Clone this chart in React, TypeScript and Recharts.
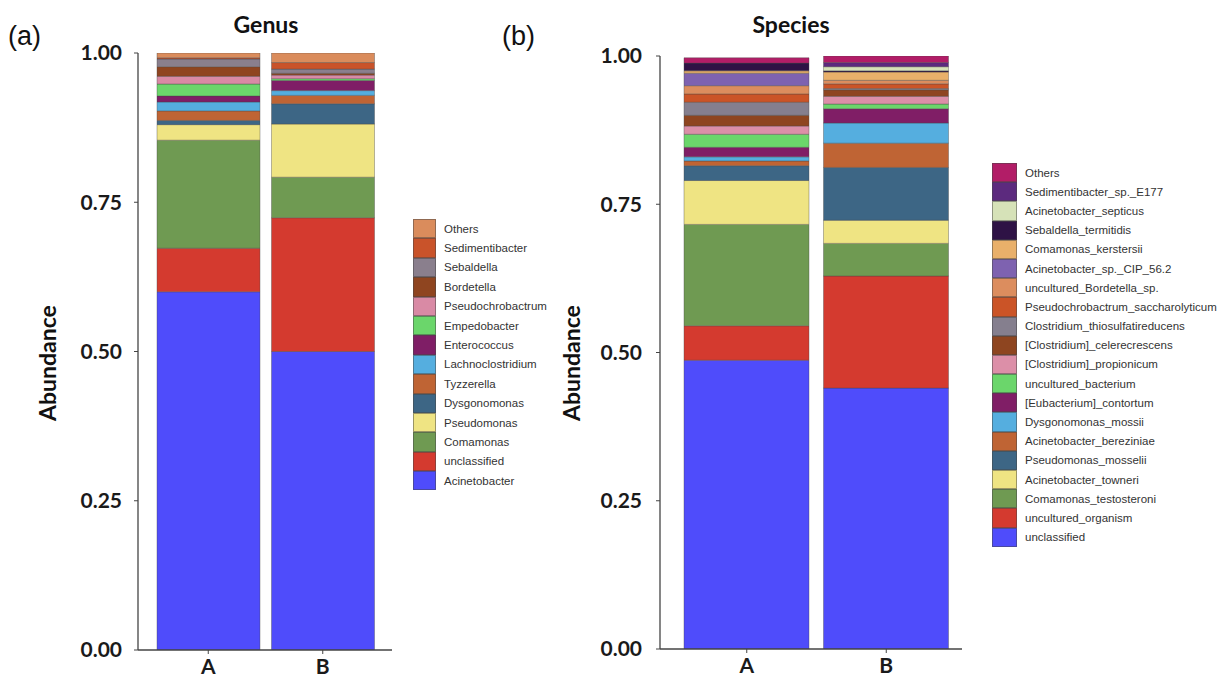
import { BarChart, Bar, XAxis, YAxis } from "recharts";

const categories = ["A", "B"];
const yTicks = [0, 0.25, 0.5, 0.75, 1];

// stacked bottom -> top
const genusNames = [
  "Acinetobacter", "unclassified", "Comamonas", "Pseudomonas", "Dysgonomonas",
  "Tyzzerella", "Lachnoclostridium", "Enterococcus", "Empedobacter",
  "Pseudochrobactrum", "Bordetella", "Sebaldella", "Sedimentibacter", "Others",
];
const genusA = [0.6, 0.073, 0.181, 0.026, 0.007, 0.016, 0.015, 0.01, 0.02, 0.013, 0.016, 0.013, 0.002, 0.008];
const genusB = [0.5, 0.224, 0.068, 0.089, 0.034, 0.014, 0.008, 0.017, 0.003, 0.006, 0.003, 0.007, 0.011, 0.016];

const speciesNames = [
  "unclassified", "uncultured_organism", "Comamonas_testosteroni", "Acinetobacter_towneri",
  "Pseudomonas_mosselii", "Acinetobacter_bereziniae", "Dysgonomonas_mossii",
  "[Eubacterium]_contortum", "uncultured_bacterium", "[Clostridium]_propionicum",
  "[Clostridium]_celerecrescens", "Clostridium_thiosulfatireducens",
  "Pseudochrobactrum_saccharolyticum", "uncultured_Bordetella_sp.", "Acinetobacter_sp._CIP_56.2",
  "Comamonas_kerstersii", "Sebaldella_termitidis", "Acinetobacter_septicus",
  "Sedimentibacter_sp._E177", "Others",
];
const speciesA = [0.487, 0.058, 0.171, 0.074, 0.025, 0.008, 0.007, 0.016, 0.022, 0.014, 0.018, 0.022, 0.014, 0.014, 0.021, 0.004, 0.013, 0, 0, 0.009];
const speciesB = [0.44, 0.189, 0.055, 0.039, 0.089, 0.041, 0.034, 0.024, 0.008, 0.013, 0.011, 0.002, 0.008, 0.006, 0, 0.014, 0.002, 0.007, 0.007, 0.011];

const genusColors = [
  "#4f4cfb", "#d43a2f", "#6f9a52", "#efe483", "#3d6685", "#bf6434", "#55aedf",
  "#7f1e66", "#6bd66b", "#d98aa5", "#8f4520", "#8a7f8d", "#c9532a", "#da8c5c",
];
const speciesColors = [
  "#4f4cfb", "#d43a2f", "#6f9a52", "#efe483", "#3d6685", "#bf6434", "#55aedf",
  "#801e66", "#6bd66b", "#dc8fa8", "#8e4520", "#857f8e", "#cb5427", "#dc8d5e",
  "#7e62b0", "#e9b06a", "#2e1245", "#d6e2b8", "#5c2a7e", "#b21d67",
];

function buildRows(names: string[], a: number[], b: number[]) {
  const vals = [a, b];
  return categories.map((c, ci) => {
    const row: Record<string, number | string> = { cat: c };
    names.forEach((_, i) => {
      row[`s${i}`] = vals[ci][i];
    });
    return row;
  });
}

const tickFont = { fontFamily: "Lato", fontWeight: 700, fontSize: 21, fill: "#1a1a1a" };
const H = 682;
const Y_W = 64;
const X_H = 30;

interface PanelProps {
  names: string[];
  colors: string[];
  a: number[];
  b: number[];
  left: number;
  width: number;
  plotLeft: number;
  plotRight: number;
  plotTop: number;
  plotBottom: number;
  barSize: number;
  padL: number;
  padR: number;
  tickMargin: number;
  title: string;
  titleX: number;
  letter: string;
  letterX: number;
  ylabX: number;
  legendX: number;
  legendY: number;
  legendW: number;
  rowH: number;
  swW: number;
}

function Panel(p: PanelProps) {
  const data = buildRows(p.names, p.a, p.b);
  const legendItems = p.names.map((n, i) => ({ n, c: p.colors[i] })).reverse();
  return (
    <>
      <div style={{ position: "absolute", left: p.left, top: 0 }}>
        <BarChart
          width={p.width}
          height={H}
          data={data}
          margin={{
            top: p.plotTop,
            bottom: H - p.plotBottom - X_H,
            left: p.plotLeft - p.left - Y_W,
            right: p.left + p.width - p.plotRight,
          }}
        >
          <XAxis
            dataKey="cat"
            height={X_H}
            padding={{ left: p.padL, right: p.padR }}
            tick={tickFont}
            tickSize={4}
            tickMargin={5}
            axisLine={{ stroke: "#444", strokeWidth: 1.3 }}
            tickLine={{ stroke: "#444" }}
          />
          <YAxis
            width={Y_W}
            type="number"
            domain={[0, 1]}
            allowDataOverflow
            ticks={yTicks}
            tickFormatter={(v: number) => v.toFixed(2)}
            tick={tickFont}
            tickSize={4}
            tickMargin={p.tickMargin}
            axisLine={{ stroke: "#444", strokeWidth: 1.3 }}
            tickLine={{ stroke: "#444" }}
          />
          {p.names.map((n, i) => (
            <Bar
              key={n}
              dataKey={`s${i}`}
              name={n}
              stackId="a"
              fill={p.colors[i]}
              stroke="rgba(70,70,70,0.55)"
              strokeWidth={0.7}
              barSize={p.barSize}
              isAnimationActive={false}
            />
          ))}
        </BarChart>
      </div>
      <div
        style={{
          position: "absolute",
          left: p.titleX,
          top: 10,
          transform: "translateX(-50%)",
          fontFamily: "Lato",
          fontWeight: 700,
          fontSize: 23,
          color: "#111",
        }}
      >
        {p.title}
      </div>
      <div
        style={{
          position: "absolute",
          left: p.letterX,
          top: 21,
          fontFamily: "Liberation Sans",
          fontSize: 27,
          color: "#111",
        }}
      >
        {p.letter}
      </div>
      <div
        style={{
          position: "absolute",
          left: p.ylabX,
          top: 363,
          transform: "translate(-50%, -50%) rotate(-90deg)",
          fontFamily: "Lato",
          fontWeight: 700,
          fontSize: 23,
          color: "#111",
          whiteSpace: "nowrap",
        }}
      >
        Abundance
      </div>
      <div
        style={{
          position: "absolute",
          left: p.legendX,
          top: p.legendY,
          width: p.legendW,
          fontFamily: "Liberation Sans",
          fontSize: 11.5,
          color: "#333",
          whiteSpace: "nowrap",
        }}
      >
        {legendItems.map((it) => (
          <div key={it.n} style={{ display: "flex", alignItems: "center", height: p.rowH }}>
            <div
              style={{
                width: p.swW,
                height: p.rowH,
                background: it.c,
                boxSizing: "border-box",
                border: "0.5px solid rgba(70,70,70,0.5)",
                flex: "none",
              }}
            />
            <span style={{ marginLeft: 8 }}>{it.n}</span>
          </div>
        ))}
      </div>
    </>
  );
}

export default function App() {
  return (
    <div style={{ position: "absolute", left: 0, top: 0, width: 1218, height: H, background: "#fff", overflow: "hidden" }}>
      <Panel
        names={genusNames}
        colors={genusColors}
        a={genusA}
        b={genusB}
        left={0}
        width={560}
        plotLeft={138}
        plotRight={392}
        plotTop={53}
        plotBottom={650}
        barSize={103}
        padL={13}
        padR={12}
        tickMargin={12}
        title="Genus"
        titleX={266}
        letter="(a)"
        letterX={8}
        ylabX={47}
        legendX={413}
        legendY={219}
        legendW={140}
        rowH={19.4}
        swW={23}
      />
      <Panel
        names={speciesNames}
        colors={speciesColors}
        a={speciesA}
        b={speciesB}
        left={545}
        width={673}
        plotLeft={660}
        plotRight={962}
        plotTop={56}
        plotBottom={649}
        barSize={125}
        padL={17}
        padR={6}
        tickMargin={14}
        title="Species"
        titleX={791}
        letter="(b)"
        letterX={502}
        ylabX={571}
        legendX={992}
        legendY={163}
        legendW={226}
        rowH={19.2}
        swW={25}
      />
    </div>
  );
}
